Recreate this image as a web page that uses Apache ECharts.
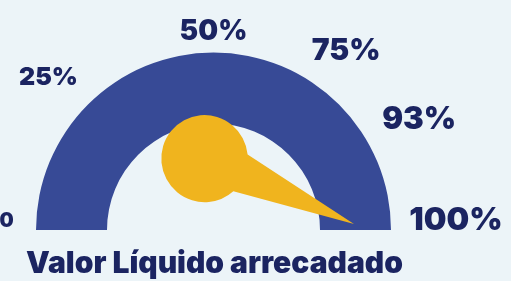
<!DOCTYPE html>
<html>
<head>
<meta charset="utf-8">
<script src="https://cdn.jsdelivr.net/npm/echarts@6/dist/echarts.min.js"></script>
<style>
  html, body { margin: 0; padding: 0; background: #ecf4f8; }
  #main { width: 511px; height: 281px; }
</style>
</head>
<body>
<div id="main"></div>
<script>
// valores do gráfico
var gaugeName = 'Valor Líquido arrecadado';
var gaugeValue = 93;
var axisMin = 0;
var axisMax = 100;
var tickValues = [0, 25, 50, 75, 100];
var tickLabels = ['0', '25%', '50%', '75%', '100%'];

var navy = '#1b2461';
var font = 'Inter';
var weight = 900;
var richKeys = ['t0', 't25', 't50', 't75', 't100'];

var myChart = echarts.init(document.getElementById('main'));

var option = {
	backgroundColor: '#ecf4f8',
	animation: false,
	series: [
		{
			type: 'gauge',
			center: [213.5, 230],
			radius: 177.5,
			startAngle: 180,
			endAngle: 0,
			min: axisMin,
			max: axisMax,
			splitNumber: tickValues.length - 1,
			axisLine: {
				lineStyle: {
					width: 71,
					color: [[1, '#374a96']]
				}
			},
			axisTick: { show: false },
			splitLine: { show: false, length: 0, distance: 0 },
			axisLabel: {
				distance: -122.5,
				color: navy,
				fontFamily: font,
				fontWeight: weight,
				formatter: function (v) {
					var i = tickValues.indexOf(v);
					if (i < 0) return '';
					return '{' + richKeys[i] + '|' + tickLabels[i] + '}';
				},
				rich: {
					t0: { fontSize: 20, fontWeight: weight, fontFamily: font, color: navy, padding: [0, 0, 18, 86] },
					t25: { fontSize: 25, fontWeight: weight, fontFamily: font, color: navy, padding: [120, 0, 0, 17.6] },
					t50: { fontSize: 28, fontWeight: weight, fontFamily: font, color: navy, padding: [88, 0, 0, 0] },
					t75: { fontSize: 30, fontWeight: weight, fontFamily: font, color: navy, padding: [66, 45, 0, 0] },
					t100: { fontSize: 32, fontWeight: weight, fontFamily: font, color: navy, padding: [0, 10.8, 20, 0] }
				}
			},
			pointer: {
				icon: 'path://M24.8 -138.4 L-65.7 -49.7 A43.3 43.3 0 1 0 -33.1 -27.7 Z',
				width: 140,
				length: 174.8,
				offsetCenter: [-45.2, 36.4],
				keepAspect: false,
				itemStyle: { color: '#f0b41e' }
			},
			anchor: { show: false },
			title: {
				offsetCenter: [1, 34],
				color: navy,
				fontSize: 30,
				fontWeight: weight,
				fontFamily: font
			},
			detail: {
				offsetCenter: [205.7, -110],
				formatter: '{value}%',
				color: navy,
				fontSize: 31,
				fontWeight: weight,
				fontFamily: font
			},
			data: [{ value: gaugeValue, name: gaugeName }]
		}
	]
};
myChart.setOption(option);
</script>
</body>
</html>
